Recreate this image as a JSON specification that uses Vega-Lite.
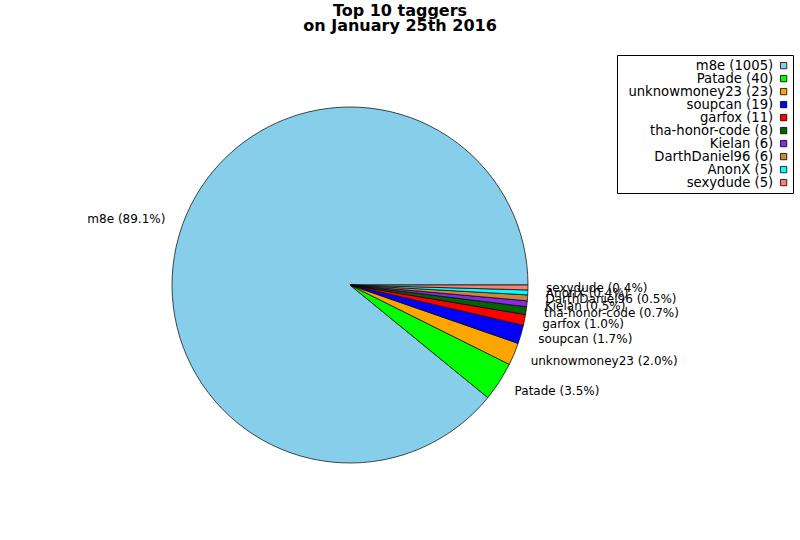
{
  "$schema": "https://vega.github.io/schema/vega-lite/v6.json",
  "width": 700,
  "height": 510,
  "autosize": "none",
  "padding": {"left": 0, "top": 30, "right": 100, "bottom": 0},
  "background": "white",
  "config": {
    "view": {"stroke": null},
    "font": "DejaVu Sans"
  },
  "title": {
    "text": ["Top 10 taggers", "on January 25th 2016"],
    "fontSize": 16,
    "fontWeight": "bold",
    "font": "DejaVu Sans",
    "color": "black",
    "anchor": "middle",
    "dx": 50,
    "offset": -4,
    "lineHeight": 15
  },
  "data": {
    "values": [
      {"rank": 1, "name": "m8e", "count": 1005, "legend": "m8e (1005)", "label": "m8e (89.1%)"},
      {"rank": 2, "name": "Patade", "count": 40, "legend": "Patade (40)", "label": "Patade (3.5%)"},
      {"rank": 3, "name": "unknowmoney23", "count": 23, "legend": "unknowmoney23 (23)", "label": "unknowmoney23 (2.0%)"},
      {"rank": 4, "name": "soupcan", "count": 19, "legend": "soupcan (19)", "label": "soupcan (1.7%)"},
      {"rank": 5, "name": "garfox", "count": 11, "legend": "garfox (11)", "label": "garfox (1.0%)"},
      {"rank": 6, "name": "tha-honor-code", "count": 8, "legend": "tha-honor-code (8)", "label": "tha-honor-code (0.7%)"},
      {"rank": 7, "name": "Kielan", "count": 6, "legend": "Kielan (6)", "label": "Kielan (0.5%)"},
      {"rank": 8, "name": "DarthDaniel96", "count": 6, "legend": "DarthDaniel96 (6)", "label": "DarthDaniel96 (0.5%)"},
      {"rank": 9, "name": "AnonX", "count": 5, "legend": "AnonX (5)", "label": "AnonX (0.4%)"},
      {"rank": 10, "name": "sexydude", "count": 5, "legend": "sexydude (5)", "label": "sexydude (0.4%)"}
    ]
  },
  "encoding": {
    "theta": {
      "field": "count",
      "type": "quantitative",
      "stack": true,
      "scale": {"range": [1.5707963, -4.712389]}
    },
    "order": {"field": "rank", "type": "quantitative"}
  },
  "layer": [
    {
      "mark": {"type": "arc", "outerRadius": 178, "stroke": "black", "strokeWidth": 0.7},
      "encoding": {
        "color": {
          "field": "legend",
          "type": "nominal",
          "scale": {
            "domain": ["m8e (1005)", "Patade (40)", "unknowmoney23 (23)", "soupcan (19)", "garfox (11)", "tha-honor-code (8)", "Kielan (6)", "DarthDaniel96 (6)", "AnonX (5)", "sexydude (5)"],
            "range": ["#87CEEB", "#00FF00", "#FFA500", "#0000FF", "#FF0000", "#006400", "#8A2BE2", "#CD853F", "#00FFFF", "#FA8072"]
          },
          "legend": {
            "title": null,
            "orient": "none",
            "legendX": 617,
            "legendY": 25,
            "symbolType": "square",
            "symbolSize": 40,
            "symbolStrokeColor": "black",
            "symbolStrokeWidth": 0.8,
            "symbolOpacity": 1,
            "symbolOffset": 156,
            "labelAlign": "right",
            "labelOffset": -17,
            "labelFontSize": 13.2,
            "labelColor": "black",
            "labelFont": "DejaVu Sans",
            "labelLimit": 300,
            "rowPadding": -8,
            "strokeColor": "black",
            "padding": 4
          }
        }
      }
    },
    {
      "mark": {
        "type": "text",
        "radius": 196,
        "align": {"expr": "datum.name == 'm8e' ? 'right' : 'left'"},
        "baseline": "middle",
        "fontSize": 12,
        "color": "black"
      },
      "encoding": {"text": {"field": "label"}}
    }
  ]
}
